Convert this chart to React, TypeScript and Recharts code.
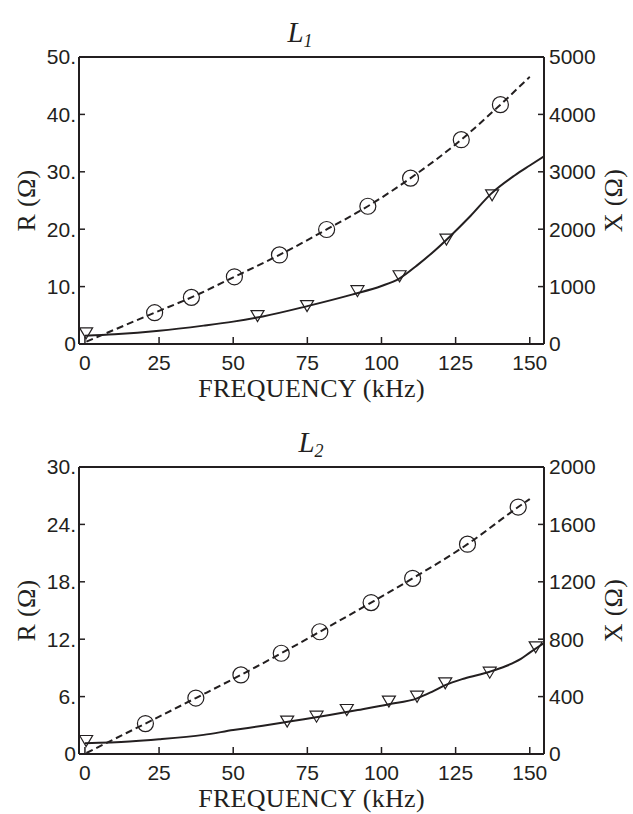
import React from "react";
import { ComposedChart, Line, Scatter, XAxis, YAxis, ReferenceLine, Label } from "recharts";

// ---------- data ----------
const freqTicks = [0, 25, 50, 75, 100, 125, 150];

const l1RTicks = [0, 10, 20, 30, 40, 50];
const l1XTicks = [0, 1000, 2000, 3000, 4000, 5000];
const l2RTicks = [0, 6, 12, 18, 24, 30];
const l2XTicks = [0, 400, 800, 1200, 1600, 2000];

// L1: resistance fitted curve (left axis, ohm)
const l1RCurve = [
  { f: 0, v: 1.45 }, { f: 10, v: 1.7 }, { f: 25, v: 2.3 }, { f: 40, v: 3.2 },
  { f: 50, v: 3.9 }, { f: 60, v: 4.8 }, { f: 75, v: 6.6 }, { f: 90, v: 8.6 },
  { f: 100, v: 10.1 }, { f: 106, v: 11.4 }, { f: 112, v: 13.7 }, { f: 118, v: 16.3 },
  { f: 123, v: 18.7 }, { f: 130, v: 22.3 }, { f: 137, v: 26.2 }, { f: 145, v: 29.4 },
  { f: 150, v: 31.1 }, { f: 154.8, v: 32.7 },
];
// L1: resistance measured points (triangles)
const l1RPoints = [
  { f: 0.4, v: 1.85 }, { f: 58.2, v: 4.85 }, { f: 74.9, v: 6.6 }, { f: 91.9, v: 9.2 },
  { f: 106.1, v: 11.8 }, { f: 121.9, v: 18.2 }, { f: 137.3, v: 25.9 },
];
// L1: reactance fitted curve (right axis, ohm)
const l1XCurve = [
  { f: 0.5, v: 40 }, { f: 10, v: 250 }, { f: 23.5, v: 545 }, { f: 35.9, v: 812 },
  { f: 50.4, v: 1171 }, { f: 65.6, v: 1552 }, { f: 81.5, v: 1995 }, { f: 95.4, v: 2400 },
  { f: 109.8, v: 2890 }, { f: 126.9, v: 3560 }, { f: 140.1, v: 4170 }, { f: 150, v: 4655 },
];
// L1: reactance measured points (circles)
const l1XPoints = [
  { f: 23.5, v: 545 }, { f: 35.9, v: 812 }, { f: 50.4, v: 1171 }, { f: 65.6, v: 1552 },
  { f: 81.5, v: 1995 }, { f: 95.4, v: 2400 }, { f: 109.8, v: 2890 }, { f: 126.9, v: 3560 },
  { f: 140.1, v: 4170 },
];

// L2
const l2RCurve = [
  { f: 0, v: 1.12 }, { f: 15, v: 1.3 }, { f: 25, v: 1.53 }, { f: 40, v: 2.0 },
  { f: 50, v: 2.5 }, { f: 60, v: 2.95 }, { f: 70, v: 3.45 }, { f: 82.5, v: 4.08 },
  { f: 92, v: 4.6 }, { f: 102.5, v: 5.2 }, { f: 112, v: 5.82 }, { f: 117, v: 6.5 },
  { f: 121.5, v: 7.2 }, { f: 128, v: 7.9 }, { f: 136.5, v: 8.6 }, { f: 142, v: 9.2 },
  { f: 147, v: 9.95 }, { f: 150, v: 10.6 }, { f: 154.8, v: 11.6 },
];
const l2RPoints = [
  { f: 0.4, v: 1.36 }, { f: 68.2, v: 3.38 }, { f: 78.1, v: 3.9 }, { f: 88.3, v: 4.6 },
  { f: 102.5, v: 5.47 }, { f: 112, v: 5.99 }, { f: 121.5, v: 7.39 }, { f: 136.5, v: 8.5 },
  { f: 152, v: 11.15 },
];
const l2XCurve = [
  { f: 0.5, v: 7 }, { f: 10, v: 105 }, { f: 20.4, v: 212 }, { f: 37.4, v: 390 },
  { f: 52.6, v: 551 }, { f: 66.2, v: 702 }, { f: 79.2, v: 852 }, { f: 96.5, v: 1055 },
  { f: 110.5, v: 1224 }, { f: 129, v: 1462 }, { f: 146.1, v: 1721 }, { f: 150, v: 1777 },
];
const l2XPoints = [
  { f: 20.4, v: 212 }, { f: 37.4, v: 390 }, { f: 52.6, v: 551 }, { f: 66.2, v: 702 },
  { f: 79.2, v: 852 }, { f: 96.5, v: 1055 }, { f: 110.5, v: 1224 }, { f: 129, v: 1462 },
  { f: 146.1, v: 1721 },
];

// ---------- styles ----------
const INK = "#231f20";
const SANS = "'Liberation Sans', Arial, sans-serif";
const SERIF = "'Liberation Serif', 'Times New Roman', serif";
const tickStyle = { fill: INK, fontSize: 21, fontFamily: SANS };
const axisLine = { stroke: INK, strokeWidth: 2 };
const tickLine = { stroke: INK, strokeWidth: 1.5 };

const CircleMark = (p: any) => (
  <circle cx={p.cx} cy={p.cy} r={8} fill="none" stroke={INK} strokeWidth={1.2} />
);
const TriMark = (p: any) => (
  <polygon
    points={`${p.cx - 6.5},${p.cy - 5.5} ${p.cx + 6.5},${p.cy - 5.5} ${p.cx},${p.cy + 5.5}`}
    fill="none"
    stroke={INK}
    strokeWidth={1.2}
  />
);

const rFmt = (v: number) => (v === 0 ? "0" : `${v}.`);

type PanelProps = {
  height: number;
  xLabelOffset: number;
  rMax: number;
  xMax: number;
  rTicks: number[];
  xTicks: number[];
  rCurve: { f: number; v: number }[];
  rPoints: { f: number; v: number }[];
  xCurve: { f: number; v: number }[];
  xPoints: { f: number; v: number }[];
};

const labelFont = { fill: INK, fontSize: 26, fontFamily: SERIF, letterSpacing: 0.3 };

function Panel(props: PanelProps) {
  const { height, xLabelOffset, rMax, xMax, rTicks, xTicks, rCurve, rPoints, xCurve, xPoints } = props;
  return (
    <ComposedChart width={633} height={height} margin={{ top: 57, right: 0, bottom: 0, left: 0 }}>
      <XAxis
        type="number"
        dataKey="f"
        domain={[-2, 154.8]}
        allowDataOverflow
        ticks={freqTicks}
        interval={0}
        height={height - 344}
        tickSize={-7}
        tickMargin={18}
        tick={tickStyle}
        axisLine={axisLine}
        tickLine={tickLine}
      >
        <Label value="FREQUENCY (kHz)" position="insideBottom" offset={xLabelOffset} {...labelFont} />
      </XAxis>
      <YAxis
        yAxisId="L"
        type="number"
        domain={[0, rMax]}
        allowDataOverflow
        ticks={rTicks}
        interval={0}
        width={79}
        tickSize={-6}
        tickMargin={9}
        tickFormatter={rFmt}
        tick={tickStyle}
        axisLine={axisLine}
        tickLine={tickLine}
      >
        <Label
          value="R (Ω)"
          position="insideLeft"
          angle={-90}
          offset={26}
          {...labelFont}
          style={{ textAnchor: "middle" }}
        />
      </YAxis>
      <YAxis
        yAxisId="R"
        orientation="right"
        type="number"
        domain={[0, xMax]}
        allowDataOverflow
        ticks={xTicks}
        interval={0}
        width={89}
        tickSize={-6}
        tickMargin={11}
        tick={tickStyle}
        axisLine={axisLine}
        tickLine={tickLine}
      >
        <Label
          value="X (Ω)"
          position="insideRight"
          angle={-90}
          offset={20}
          {...labelFont}
          style={{ textAnchor: "middle" }}
        />
      </YAxis>
      <ReferenceLine yAxisId="L" y={rMax} stroke={INK} strokeWidth={2} />
      <Line
        yAxisId="R"
        data={xCurve}
        dataKey="v"
        type="monotone"
        stroke={INK}
        strokeWidth={2}
        strokeDasharray="7 4"
        dot={false}
        activeDot={false}
        isAnimationActive={false}
      />
      <Line
        yAxisId="L"
        data={rCurve}
        dataKey="v"
        type="monotone"
        stroke={INK}
        strokeWidth={2}
        dot={false}
        activeDot={false}
        isAnimationActive={false}
      />
      <Scatter yAxisId="R" data={xPoints} dataKey="v" shape={CircleMark} isAnimationActive={false} />
      <Scatter yAxisId="L" data={rPoints} dataKey="v" shape={TriMark} isAnimationActive={false} />
    </ComposedChart>
  );
}

export default function App() {
  return (
    <div style={{ position: "absolute", left: 0, top: 0, width: 633, height: 814, background: "#fff" }}>
      <Panel
        height={410}
        xLabelOffset={12.7}
        rMax={50}
        xMax={5000}
        rTicks={l1RTicks}
        xTicks={l1XTicks}
        rCurve={l1RCurve}
        rPoints={l1RPoints}
        xCurve={l1XCurve}
        xPoints={l1XPoints}
      />
      <Panel
        height={404}
        xLabelOffset={6.7}
        rMax={30}
        xMax={2000}
        rTicks={l2RTicks}
        xTicks={l2XTicks}
        rCurve={l2RCurve}
        rPoints={l2RPoints}
        xCurve={l2XCurve}
        xPoints={l2XPoints}
      />
      <svg
        width={633}
        height={814}
        style={{ position: "absolute", left: 0, top: 0, pointerEvents: "none" }}
      >
        <text x={300} y={42} textAnchor="middle" fontFamily={SERIF} fontStyle="italic" fontSize={29} fill={INK}>
          L<tspan fontSize={18} dy={5}>1</tspan>
        </text>
        <text x={311} y={452} textAnchor="middle" fontFamily={SERIF} fontStyle="italic" fontSize={29} fill={INK}>
          L<tspan fontSize={18} dy={5}>2</tspan>
        </text>
      </svg>
    </div>
  );
}
